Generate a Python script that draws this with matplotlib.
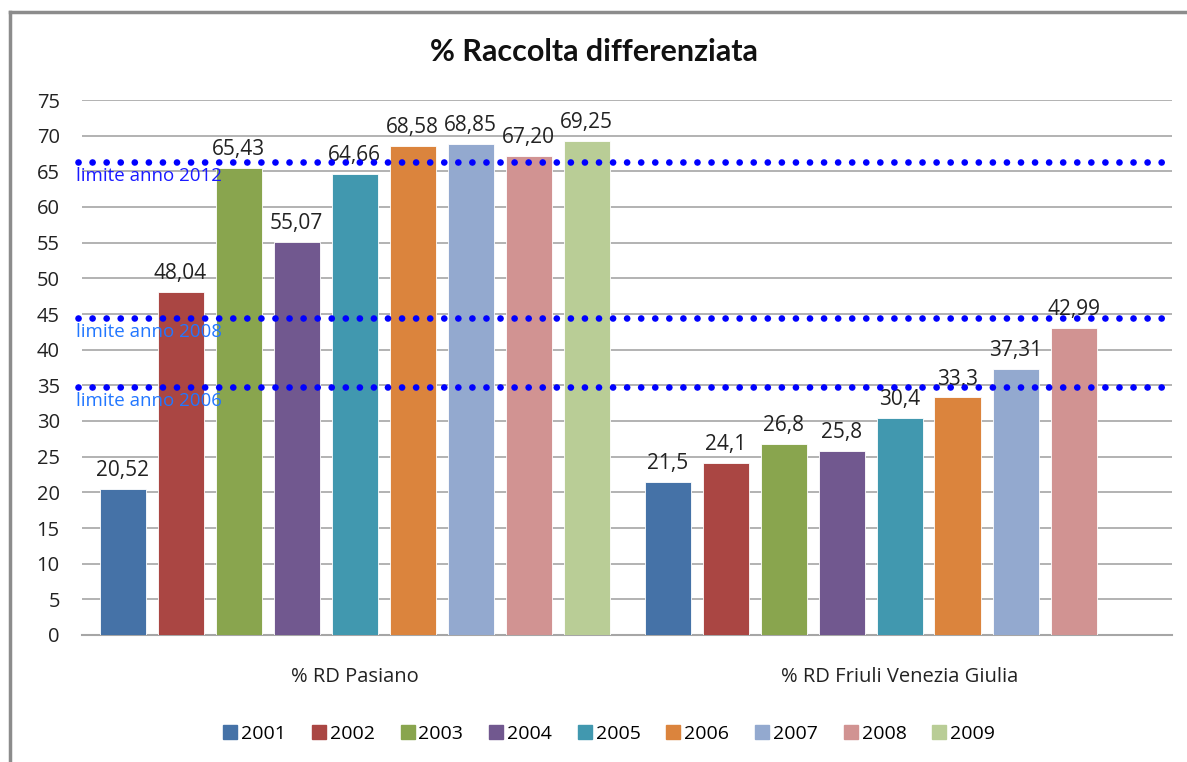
import numpy as np
import matplotlib
matplotlib.use('Agg')
import matplotlib.pyplot as plt
from matplotlib.lines import Line2D

plt.rcParams['font.family'] = ['Open Sans', 'DejaVu Sans']

# data
categories = ['% RD Pasiano', '% RD Friuli Venezia Giulia']
years = ['2001', '2002', '2003', '2004', '2005', '2006', '2007', '2008', '2009']
pasiano = [20.52, 48.04, 65.43, 55.07, 64.66, 68.58, 68.85, 67.20, 69.25]
fvg = [21.5, 24.1, 26.8, 25.8, 30.4, 33.3, 37.31, 42.99, None]
pasiano_lbl = ['20,52', '48,04', '65,43', '55,07', '64,66', '68,58', '68,85', '67,20', '69,25']
fvg_lbl = ['21,5', '24,1', '26,8', '25,8', '30,4', '33,3', '37,31', '42,99', None]
colors = ['#4572A7', '#AA4643', '#89A54E', '#71588F', '#4198AF',
          '#DB843D', '#93A9CF', '#D19392', '#B9CD96']
limits = [66.3, 44.5, 34.7]
limit_lbl = ['limite anno 2012', 'limite anno 2008', 'limite anno 2006']
limit_col = ['#1a1aff', '#2277ff', '#2277ff']

W, H = 1187, 762
fig = plt.figure(figsize=(W / 100, H / 100), dpi=100)
ax = fig.add_axes([82 / W, 1 - 635 / H, (1172 - 82) / W, (635 - 100) / H])

slot = 58 / 545
bw = 46 / 545
for i, yr in enumerate(years):
    vals = [pasiano[i], fvg[i]]
    lbls = [pasiano_lbl[i], fvg_lbl[i]]
    for c in range(2):
        if vals[c] is None:
            continue
        x = c + (i - 4) * slot
        ax.bar(x, vals[c], bw, color=colors[i], edgecolor='white', linewidth=0.6, zorder=3)
        ax.text(x, vals[c] + 1.1, lbls[c], ha='center', va='bottom', fontsize=15,
                color='#222222', zorder=5)

ax.set_xlim(-0.5, 1.5)
ax.set_ylim(0, 75)
ax.set_yticks(np.arange(0, 76, 5))
ax.set_xticks([0, 1])
ax.set_xticklabels(categories, fontsize=14.5)
ax.tick_params(axis='both', length=0, labelsize=14.5, colors='#222222')
ax.tick_params(axis='y', pad=16)
ax.tick_params(axis='x', pad=23)
ax.grid(axis='y', color='#a6a6a6', linewidth=1.2, zorder=0)
for s in ['left', 'right', 'top']:
    ax.spines[s].set_visible(False)
ax.spines['bottom'].set_color('#a6a6a6')
ax.spines['bottom'].set_linewidth(1.5)

# limit lines (extend a bit outside the plot area)
for v, t, col in zip(limits, limit_lbl, limit_col):
    ax.plot([-0.508, 1.505], [v, v], linestyle=(0, (0.01, 2.1)), dash_capstyle='round',
            color='#0000ff', linewidth=4.8, zorder=6, clip_on=False)
    ax.text(-0.511, v - 0.7, t, ha='left', va='top', fontsize=13.5, color=col, zorder=7)

fig.text(0.5, 1 - 52 / H, '% Raccolta differenziata', ha='center', va='center',
         fontsize=22, fontweight='bold', color='#111111', family=['Lato', 'DejaVu Sans'])

handles = [Line2D([0], [0], marker='s', linestyle='none', markersize=10,
                  markerfacecolor=c, markeredgecolor=c) for c in colors]
fig.legend(handles, years, loc='center', bbox_to_anchor=(0.512, 1 - 734 / H), ncol=9,
           frameon=False, fontsize=14, handletextpad=0.05, columnspacing=1.2,
           handlelength=1.0)

# chart frame
fig.add_artist(Line2D([10 / W, 10 / W], [0, 1 - 12 / H], color='#8c8c8c', linewidth=2.5))
fig.add_artist(Line2D([10 / W, 1], [1 - 12 / H, 1 - 12 / H], color='#8c8c8c', linewidth=2.5))

fig.savefig('out.png', dpi=100, facecolor='white')
